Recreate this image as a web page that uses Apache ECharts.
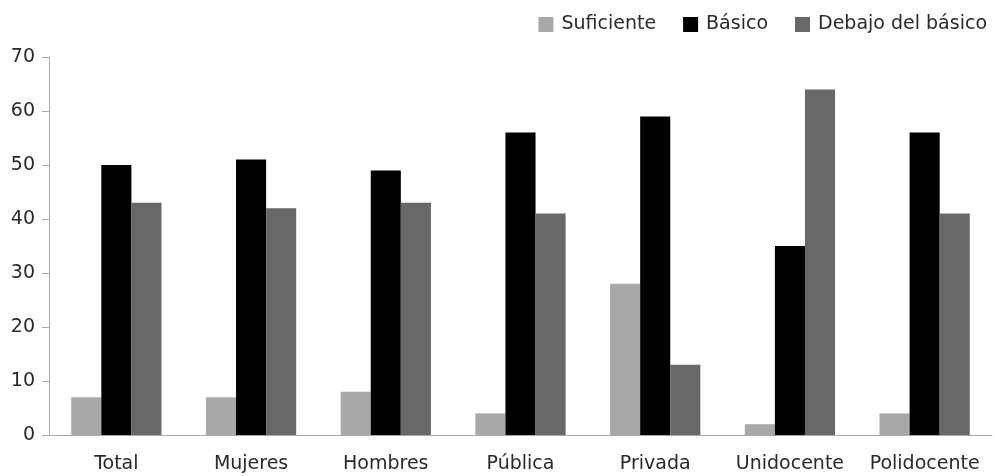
<!DOCTYPE html>
<html><head><meta charset="utf-8">
<script src="https://cdn.jsdelivr.net/npm/echarts@6/dist/echarts.min.js"></script>
<style>html,body{margin:0;padding:0;background:#fff}#c{width:995px;height:476px}</style>
</head><body><div id="c"></div>
<script>
const categories = ["Total","Mujeres","Hombres","Pública","Privada","Unidocente","Polidocente"];
const suficiente = [7,7,8,4,28,2,4];
const basico = [50,51,49,56,59,35,56];
const debajo = [43,42,43,41,13,64,41];
const yTicks = [0,10,20,30,40,50,60,70];

const chart = echarts.init(document.getElementById('c'));
const font = "'DejaVu Sans', sans-serif";
chart.setOption({
  animation:false,
  textStyle:{fontFamily:font},
  legend:{
    right:3, top:10, itemWidth:15, itemHeight:15, itemGap:27, icon:'rect',
    textStyle:{fontSize:19, color:'#2a2a2a', fontFamily:font, padding:[0,0,0,3]},
    data:['Suficiente','Básico','Debajo del básico']
  },
  grid:{left:49, right:3, top:57, bottom:41},
  xAxis:{
    type:'category', data:categories,
    axisLine:{lineStyle:{color:'#aaa'}},
    axisTick:{lineStyle:{color:'#aaa'}, length:6},
    axisLabel:{fontSize:19, color:'#2a2a2a', margin:20, interval:0, fontFamily:font}
  },
  yAxis:{
    type:'value', min:yTicks[0], max:yTicks[yTicks.length-1], interval:10,
    splitLine:{show:false},
    axisLine:{show:true, lineStyle:{color:'#aaa'}},
    axisTick:{show:true, length:7, lineStyle:{color:'#aaa'}},
    axisLabel:{fontSize:19, color:'#2a2a2a', margin:14, fontFamily:font}
  },
  series:[
    {name:'Suficiente', type:'bar', data:suficiente, itemStyle:{color:'#a8a8a8'}, barGap:'0%', barCategoryGap:'33%'},
    {name:'Básico', type:'bar', data:basico, itemStyle:{color:'#000'}, barGap:'0%', barCategoryGap:'33%'},
    {name:'Debajo del básico', type:'bar', data:debajo, itemStyle:{color:'#686868'}, barGap:'0%', barCategoryGap:'33%'}
  ]
});
</script></body></html>
